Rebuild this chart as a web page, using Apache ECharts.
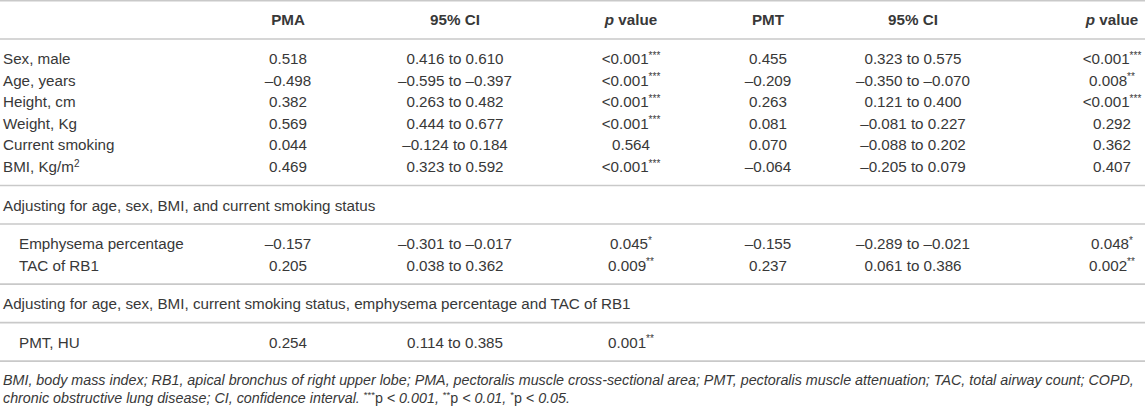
<!DOCTYPE html>
<html>
<head>
<meta charset="utf-8">
<script src="https://cdn.jsdelivr.net/npm/echarts@6/dist/echarts.min.js"></script>
<style>
  html, body { margin: 0; padding: 0; background: #fff; }
  #table { width: 1145px; height: 408px; }
</style>
</head>
<body>
<div id="table"></div>
<script>
(function() {
  // --- data ---
  var columns = ['PMA', '95% CI', 'p value', 'PMT', '95% CI', 'p value'];

  var baseRows = ['Sex, male', 'Age, years', 'Height, cm', 'Weight, Kg', 'Current smoking', 'BMI, Kg/m{sup|2}'];
  var basePma = [0.518, -0.498, 0.382, 0.569, 0.044, 0.469];
  var basePmaLow = [0.416, -0.595, 0.263, 0.444, -0.124, 0.323];
  var basePmaHigh = [0.610, -0.397, 0.482, 0.677, 0.184, 0.592];
  var basePmaP = ['<0.001', '<0.001', '<0.001', '<0.001', '0.564', '<0.001'];
  var basePmaStars = [3, 3, 3, 3, 0, 3];
  var basePmt = [0.455, -0.209, 0.263, 0.081, 0.070, -0.064];
  var basePmtLow = [0.323, -0.350, 0.121, -0.081, -0.088, -0.205];
  var basePmtHigh = [0.575, -0.070, 0.400, 0.227, 0.202, 0.079];
  var basePmtP = ['<0.001', '0.008', '<0.001', '0.292', '0.362', '0.407'];
  var basePmtStars = [3, 2, 3, 0, 0, 0];

  var adj1Title = 'Adjusting for age, sex, BMI, and current smoking status';
  var adj1Rows = ['Emphysema percentage', 'TAC of RB1'];
  var adj1Pma = [-0.157, 0.205];
  var adj1PmaLow = [-0.301, 0.038];
  var adj1PmaHigh = [-0.017, 0.362];
  var adj1PmaP = ['0.045', '0.009'];
  var adj1PmaStars = [1, 2];
  var adj1Pmt = [-0.155, 0.237];
  var adj1PmtLow = [-0.289, 0.061];
  var adj1PmtHigh = [-0.021, 0.386];
  var adj1PmtP = ['0.048', '0.002'];
  var adj1PmtStars = [1, 2];

  var adj2Title = 'Adjusting for age, sex, BMI, current smoking status, emphysema percentage and TAC of RB1';
  var adj2Rows = ['PMT, HU'];
  var adj2Pma = [0.254];
  var adj2PmaLow = [0.114];
  var adj2PmaHigh = [0.385];
  var adj2PmaP = ['0.001'];
  var adj2PmaStars = [2];

  var footnote = [
    'BMI, body mass index; RB1, apical bronchus of right upper lobe; PMA, pectoralis muscle cross-sectional area; PMT, pectoralis muscle attenuation; TAC, total airway count; COPD,',
    'chronic obstructive lung disease; CI, confidence interval. {sup|***}{up|p} < 0.001, {sup|**}{up|p} < 0.01, {sup|*}{up|p} < 0.05.'
  ];

  // --- layout ---
  var W = 1145, H = 408;
  var ink = '#383838';
  var rule = '#c9c9c9';
  var font = '"Liberation Sans", Arial, Helvetica, sans-serif';
  var fs = 15.2;
  var noteFs = 14.3;
  var colX = [3, 288, 455, 631, 768, 913, 1112];
  var indent = 16;
  var rowStep = 21.6;
  var padAfterRule = 19.5;
  var padBeforeRule = 19;

  function num(v) {
    return (v < 0 ? '\u2013' : '') + Math.abs(v).toFixed(3);
  }
  function ci(lo, hi) {
    return num(lo) + ' to ' + num(hi);
  }
  function pv(p, stars) {
    return p + (stars ? '{sup|' + '*'.repeat(stars) + '}' : '');
  }

  var cells = [];
  var rules = [0.75];
  var y = 19;

  columns.forEach(function(c, i) {
    var txt = c === 'p value' ? '{hi|p}{hb| value}' : '{hb|' + c + '}';
    cells.push({ x: colX[i + 1], y: y, text: txt, align: 'center' });
  });
  y = 39;
  rules.push(y);

  function addRows(names, lead, vals, lows, highs, ps, stars, vals2, lows2, highs2, ps2, stars2) {
    y += padAfterRule;
    names.forEach(function(name, i) {
      if (i > 0) y += rowStep;
      cells.push({ x: colX[0] + lead, y: y, text: name, align: 'left' });
      cells.push({ x: colX[1], y: y, text: num(vals[i]), align: 'center' });
      cells.push({ x: colX[2], y: y, text: ci(lows[i], highs[i]), align: 'center' });
      cells.push({ x: colX[3], y: y, text: pv(ps[i], stars[i]), align: 'center' });
      if (vals2) {
        cells.push({ x: colX[4], y: y, text: num(vals2[i]), align: 'center' });
        cells.push({ x: colX[5], y: y, text: ci(lows2[i], highs2[i]), align: 'center' });
        cells.push({ x: colX[6], y: y, text: pv(ps2[i], stars2[i]), align: 'center' });
      }
    });
    y += padBeforeRule;
    rules.push(y);
  }
  function addTitle(title) {
    y += padAfterRule;
    cells.push({ x: colX[0], y: y, text: title, align: 'left' });
    y += padBeforeRule;
    rules.push(y);
  }

  addRows(baseRows, 0, basePma, basePmaLow, basePmaHigh, basePmaP, basePmaStars,
          basePmt, basePmtLow, basePmtHigh, basePmtP, basePmtStars);
  addTitle(adj1Title);
  addRows(adj1Rows, indent, adj1Pma, adj1PmaLow, adj1PmaHigh, adj1PmaP, adj1PmaStars,
          adj1Pmt, adj1PmtLow, adj1PmtHigh, adj1PmtP, adj1PmtStars);
  addTitle(adj2Title);
  addRows(adj2Rows, indent, adj2Pma, adj2PmaLow, adj2PmaHigh, adj2PmaP, adj2PmaStars);

  y += 18.5;
  footnote.forEach(function(line, i) {
    cells.push({ x: colX[0], y: y + i * 18, text: line, align: 'left', note: true });
  });

  var rich = {
    hb: { fontFamily: font, fontSize: fs, fontWeight: 'bold', fill: ink, lineHeight: 17 },
    hi: { fontFamily: font, fontSize: fs, fontWeight: 'bold', fontStyle: 'italic', fill: ink, lineHeight: 17 },
    sup: { fontFamily: font, fontSize: 10, fill: ink, lineHeight: 10, verticalAlign: 'top' }
  };
  var noteRich = {
    up: { fontFamily: font, fontSize: noteFs, fontStyle: 'normal', fill: ink, lineHeight: 17 },
    sup: { fontFamily: font, fontSize: 9.5, fontStyle: 'normal', fill: ink, lineHeight: 9, verticalAlign: 'top' }
  };

  var chart = echarts.init(document.getElementById('table'), null, { renderer: 'svg' });
  chart.setOption({
    animation: false,
    grid: { left: 0, right: 0, top: 0, bottom: 0 },
    xAxis: { type: 'value', min: 0, max: W, show: false },
    yAxis: { type: 'value', min: 0, max: H, inverse: true, show: false },
    series: [
      {
        type: 'custom',
        silent: true,
        data: rules.map(function(r) { return [0, r]; }),
        renderItem: function(params, api) {
          var a = api.coord([0, api.value(1)]);
          var b = api.coord([W, api.value(1)]);
          return {
            type: 'line',
            shape: { x1: a[0], y1: a[1], x2: b[0], y2: b[1] },
            style: { stroke: rule, lineWidth: 1.6 }
          };
        }
      },
      {
        type: 'custom',
        silent: true,
        data: cells.map(function(c, i) { return [c.x, c.y, i]; }),
        renderItem: function(params, api) {
          var c = cells[api.value(2)];
          var p = api.coord([api.value(0), api.value(1)]);
          return {
            type: 'text',
            x: p[0],
            y: p[1],
            style: {
              text: c.text,
              fill: ink,
              fontFamily: font,
              fontSize: c.note ? noteFs : fs,
              fontStyle: c.note ? 'italic' : 'normal',
              lineHeight: 17,
              align: c.align,
              verticalAlign: 'middle',
              rich: c.note ? noteRich : rich
            }
          };
        }
      }
    ]
  });
})();
</script>
</body>
</html>
